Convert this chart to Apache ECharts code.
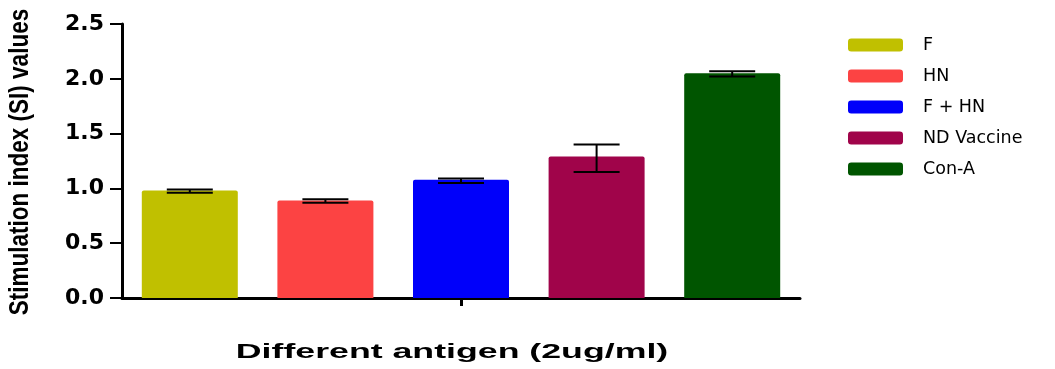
<!DOCTYPE html>
<html>
<head>
<meta charset="utf-8">
<script src="https://cdn.jsdelivr.net/npm/echarts@6/dist/echarts.min.js"></script>
<style>html,body{margin:0;padding:0;background:#fff}#c{width:1055px;height:369px}</style>
</head>
<body>
<div id="c"></div>
<script>
const categories = ['F', 'HN', 'F + HN', 'ND Vaccine', 'Con-A'];
const means = [0.98, 0.89, 1.08, 1.29, 2.05];
const errLow = [0.96, 0.87, 1.05, 1.15, 2.02];
const errHigh = [0.99, 0.90, 1.09, 1.40, 2.07];
const colors = ['#c0c000', '#fc4343', '#0000fa', '#a0044a', '#005500'];
const yTicks = [0, 0.5, 1.0, 1.5, 2.0, 2.5];

const chart = echarts.init(document.getElementById('c'), null, {renderer: 'canvas'});

const barSeries = categories.map((name, i) => ({
  name: name,
  type: 'bar',
  stack: 'all',
  barWidth: 96,
  itemStyle: {color: colors[i], borderRadius: [2, 2, 0, 0]},
  data: categories.map((c, j) => j === i ? means[i] : '-')
}));

const errSeries = {
  name: 'err',
  type: 'custom',
  z: 10,
  data: categories.map((c, i) => [i, errLow[i], errHigh[i]]),
  renderItem: function (params, api) {
    const x = api.value(0);
    const lo = api.coord([x, api.value(1)]);
    const hi = api.coord([x, api.value(2)]);
    const half = 23;
    const style = {stroke: '#000', lineWidth: 2};
    return {
      type: 'group',
      children: [
        {type: 'line', shape: {x1: lo[0], y1: lo[1], x2: hi[0], y2: hi[1]}, style: style},
        {type: 'line', shape: {x1: lo[0] - half, y1: lo[1], x2: lo[0] + half, y2: lo[1]}, style: style},
        {type: 'line', shape: {x1: hi[0] - half, y1: hi[1], x2: hi[0] + half, y2: hi[1]}, style: style}
      ]
    };
  }
};

chart.setOption({
  animation: false,
  backgroundColor: '#fff',
  grid: {left: 122, right: 255, top: 24, bottom: 71},
  legend: {
    data: categories,
    orient: 'vertical',
    left: 843,
    top: 30,
    icon: 'roundRect',
    itemWidth: 55,
    itemHeight: 13,
    itemGap: 11,
    textStyle: {fontFamily: 'DejaVu Sans', fontSize: 17.5, color: '#000', lineHeight: 20, padding: [0, 0, 0, 15]}
  },
  xAxis: {
    type: 'category',
    data: categories,
    axisLine: {lineStyle: {color: '#000', width: 3}},
    axisTick: {show: true, alignWithLabel: true, length: 8, lineStyle: {color: '#000', width: 3},
      interval: function (idx) { return idx === 2; }},
    axisLabel: {show: false}
  },
  yAxis: {
    type: 'value',
    min: yTicks[0],
    max: yTicks[yTicks.length - 1],
    interval: 0.5,
    axisLine: {show: true, lineStyle: {color: '#000', width: 3}},
    axisTick: {show: true, length: 12, lineStyle: {color: '#000', width: 2}},
    splitLine: {show: false},
    axisLabel: {
      margin: 18,
      fontFamily: 'DejaVu Sans',
      fontWeight: 'bold',
      fontSize: 22,
      color: '#000',
      formatter: v => v.toFixed(1)
    }
  },
  graphic: [
    {
      type: 'text',
      x: 452, y: 352,
      scaleX: 1.7,
      style: {text: 'Different antigen (2ug/ml)', fontFamily: 'Liberation Sans', fontWeight: 'bold',
        fontSize: 21, fill: '#000', textAlign: 'center', textVerticalAlign: 'middle'}
    },
    {
      type: 'text',
      x: 21, y: 162,
      rotation: Math.PI / 2,
      scaleY: 1.2,
      style: {text: 'Stimulation index (SI) values', fontFamily: 'Liberation Sans', fontWeight: 'bold',
        fontSize: 22.5, fill: '#000', textAlign: 'center', textVerticalAlign: 'middle'}
    }
  ],
  series: barSeries.concat([errSeries])
});
</script>
</body>
</html>
